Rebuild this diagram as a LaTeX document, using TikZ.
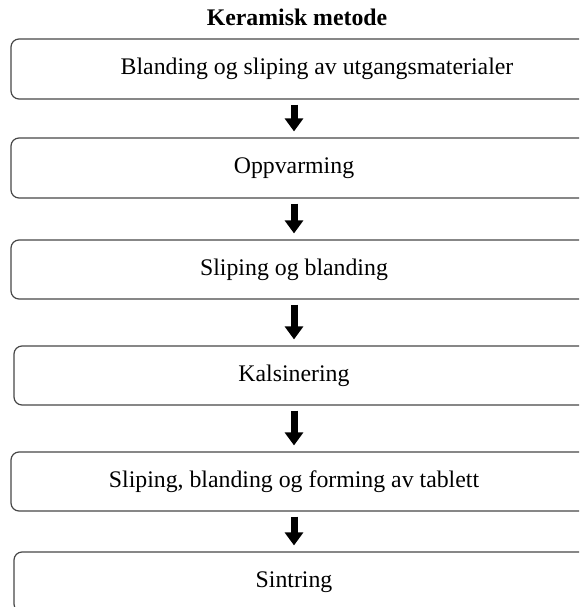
\documentclass[tikz,border=0pt]{standalone}
\usepackage{fontspec}
\setmainfont{Liberation Serif}
\usetikzlibrary{arrows.meta}
\tikzset{
  stepbox/.style={draw=black!72, line width=1.2pt, rounded corners=8pt,
    inner sep=0pt, minimum height=60pt},
  steptext/.style={inner sep=0pt, font=\fontsize{23.8}{27}\selectfont},
  blockarrow/.style={line width=7pt, black,
    -{Triangle[width=18pt,length=13pt]}, shorten <=5pt, shorten >=6pt},
  heading/.style={font=\fontsize{23.8}{27}\selectfont\bfseries}
}
\begin{document}
\begin{tikzpicture}[x=1pt,y=1pt]
  \useasboundingbox (0,0) rectangle (579,-607);
  \clip (0,0) rectangle (579,-607);
  % vertical axis of the arrows and of most captions
  \coordinate (axis) at (294,0);
  \coordinate (axisfirst) at (317,0);

  \node[heading, anchor=base] (title) at (297,-26) {Keramisk metode};

  % boxes run past the right edge of the page
  \node[stepbox, minimum width=596pt] (b1) at (309,-69) {};
  \node[stepbox, minimum width=596pt] (b2) at (309,-168) {};
  \node[stepbox, minimum width=596pt, minimum height=59pt] (b3) at (309,-269.5) {};
  \node[stepbox, minimum width=593pt, minimum height=59pt] (b4) at (310.5,-375.5) {};
  \node[stepbox, minimum width=596pt, minimum height=59pt] (b5) at (309,-481.5) {};
  \node[stepbox, minimum width=593pt] (b6) at (310.5,-582) {};

  \node[steptext] (t1) at (b1.center -| axisfirst) {Blanding og sliping av utgangsmaterialer};
  \node[steptext] (t2) at (b2.center -| axis) {Oppvarming};
  \node[steptext] (t3) at (b3.center -| axis) {Sliping og blanding};
  \node[steptext] (t4) at (b4.center -| axis) {Kalsinering};
  \node[steptext] (t5) at (b5.center -| axis) {Sliping, blanding og forming av tablett};
  \node[steptext] (t6) at (b6.center -| axis) {Sintring};

  \foreach \a/\b in {b1/b2, b2/b3, b3/b4, b4/b5, b5/b6}
    \draw[blockarrow] (\a.south -| axis) -- (\b.north -| axis);
\end{tikzpicture}
\end{document}
